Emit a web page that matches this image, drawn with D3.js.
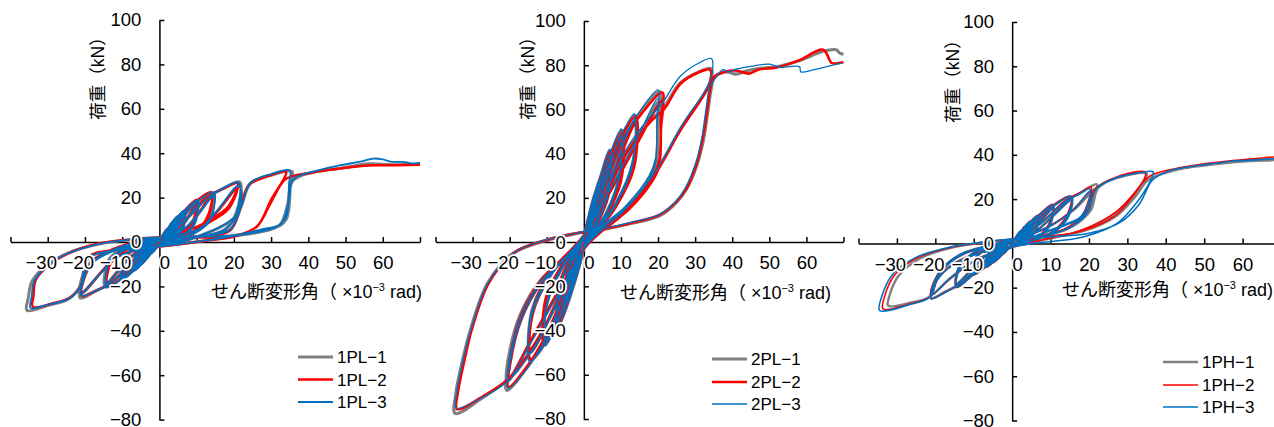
<!DOCTYPE html>
<html>
<head>
<meta charset="utf-8">
<script src="https://cdn.jsdelivr.net/npm/d3@7"></script>
<style>
  body { margin: 0; background: #fff; }
  text { font-family: "Liberation Sans", "Noto Sans CJK JP", sans-serif; fill: #000; }
</style>
</head>
<body>
<svg id="chart" width="1274" height="427"></svg>
<script>
// AXIS TICKS
xTicks = [-40, -30, -20, -10, 0, 10, 20, 30, 40, 50, 60, 70];
xTickLabels = [-30, -20, -10, 0, 10, 20, 30, 40, 50, 60];
yTicks = [-80, -60, -40, -20, 0, 20, 40, 60, 80, 100];

// SERIES NAMES
namesPL1 = ["1PL-1", "1PL-2", "1PL-3"];
namesPL2 = ["2PL-1", "2PL-2", "2PL-3"];
namesPH1 = ["1PH-1", "1PH-2", "1PH-3"];

// 1PL (shear angle x10^-3 rad, load kN)
pl1_1 = [[0,0],
[1,3.2],[2.2,6],[1.9,2.6],[0.7,0],[0,-0.8],[-1,-2.8],[-2.2,-5],[-1.9,-2],[-0.7,0],[0,0.8],
[1.6,3.6],[3.3,8.5],[2.8,3.4],[1,0],[0,-1],[-1.6,-3.2],[-3.3,-7.2],[-2.8,-2.6],[-1,0],[0,1],
[1.6,3.8],[3,7.6],[5,11.5],[4.3,4.5],[1.5,0],[0,-1.2],[-1.6,-3.5],[-3,-6.5],[-5.2,-10.2],[-4.4,-3.8],[-1.5,0],[0,1.2],
[2.6,4.2],[5,10.6],[4.4,4.2],[1.6,0],[0,-1.2],[-2.6,-4],[-5.2,-9.4],[-4.5,-3.4],[-1.6,0],[0,1.2],
[2.5,5.2],[4.5,10.3],[6.8,14],[5.9,5.5],[2.2,0.2],[0,-1.3],[-2.6,-4.8],[-4.7,-9.3],[-7,-12.8],[-6,-4.6],[-2.2,-0.2],[0,1.3],
[3.6,4.6],[6.8,12.8],[6,5.2],[2.3,0.2],[0,-1.3],[-3.6,-4.4],[-7,-11.7],[-6.1,-4.3],[-2.3,0],[0,1.3],
[3.4,6.3],[6.2,12.6],[10.2,18.5],[9,7.5],[3.5,0.4],[0,-1.5],[-3.5,-5.8],[-6.3,-11.5],[-10.4,-16.8],[-9.2,-6.2],[-3.5,-0.4],[0,1.5],
[5,5.1],[10.2,16.8],[9,7],[3.6,0.3],[0,-1.5],[-5,-5],[-10.4,-15.3],[-9.2,-5.8],[-3.6,-0.3],[0,1.5],
[5,8.3],[9.2,16.6],[14.3,22],[13.1,9.6],[5,0.8],[0,-1.6],[-5.2,-7.6],[-9.4,-15.1],[-14.5,-20.3],[-13.3,-7.8],[-5,-0.6],[0,1.6],
[7,6.2],[14.3,20.3],[13.1,9],[5.2,0.6],[0,-1.6],[-7,-5.8],[-14.5,-18.6],[-13.3,-7.2],[-5.2,-0.4],[0,1.6],
[7,10],[12.9,19.8],[17.5,24.5],[21.6,27],[20.6,13],[17.5,5.5],[8,1.3],[0,-1.8],[-7.2,-9.1],[-13,-18.3],[-17.5,-22.5],[-21.3,-25.2],[-20.6,-16],[-18.2,-9.2],[-11.5,-3.2],[-5,-0.6],[0,1.8],
[11,6.2],[21.6,25.2],[20.6,12],[8,1.1],[0,-1.8],[-11,-6.4],[-21.3,-23.4],[-20.6,-15],[-18.2,-8.6],[-8,-0.8],[0,1.8],
[12,2.8],[19,5.5],[22,16],[24.5,26.5],[30,30],[35.6,31.8],[35.2,26],[34,10],[30.5,6],[20,2.6],[12,0.6],[0,-2],[-12,-3.8],[-19,-7],[-21.5,-20.5],[-24.5,-25.8],[-30,-28.6],[-35.6,-30.8],[-35.2,-25],[-34.2,-17.5],[-30,-10.2],[-25,-5.3],[-16,-0.8],[-6,1.3],[0,2],
[10,2.2],[20,2.9],[28,5.6],[32.3,7.6],[34.3,16],[35.6,27],[38,29.8],[42,31.6],[50,33.6],[56,35.2],[63,34.8],[70,35]];

pl1_2 = [[0,0],
[1,3],[2.2,5.8],[1.9,2.4],[0.7,0],[0,-0.7],[-1,-2.6],[-2.2,-4.8],[-1.9,-1.9],[-0.7,0],[0,0.7],
[1.6,3.4],[3.3,8.2],[2.8,3.2],[1,0],[0,-0.9],[-1.6,-3],[-3.3,-7],[-2.8,-2.5],[-1,0],[0,0.9],
[1.6,3.7],[3,7.4],[5,11.2],[4.3,4.3],[1.5,0],[0,-1.1],[-1.6,-3.4],[-3,-6.3],[-5,-10],[-4.3,-3.6],[-1.5,0],[0,1.1],
[2.6,4],[5,10.4],[4.4,4],[1.6,0],[0,-1.1],[-2.6,-3.8],[-5,-9.2],[-4.4,-3.2],[-1.6,0],[0,1.1],
[2.5,5],[4.5,10],[6.8,14.2],[5.8,5.2],[2.2,0.2],[0,-1.2],[-2.5,-4.6],[-4.5,-9.1],[-6.8,-12.6],[-5.8,-4.4],[-2.2,-0.2],[0,1.2],
[3.6,4.4],[6.8,13],[5.9,5],[2.3,0.2],[0,-1.2],[-3.6,-4.2],[-6.8,-11.6],[-5.9,-4.1],[-2.3,0],[0,1.2],
[3.4,6.4],[6.1,12.8],[10,19],[8.4,7.2],[3.5,0.4],[0,-1.4],[-3.4,-5.7],[-6.1,-11.3],[-10,-16.6],[-8.6,-6],[-3.5,-0.4],[0,1.4],
[5,5],[10,17.2],[8.5,6.8],[3.6,0.3],[0,-1.4],[-5,-4.8],[-10,-15],[-8.7,-5.6],[-3.6,-0.3],[0,1.4],
[5,8.6],[9,17],[14,22.3],[12.2,9.2],[5,0.8],[0,-1.5],[-5,-7.5],[-9,-14.9],[-14,-20],[-12.4,-7.5],[-5,-0.6],[0,1.5],
[7,6],[14,20.5],[12.4,8.8],[5.2,0.6],[0,-1.5],[-7,-5.6],[-14,-18.4],[-12.5,-7],[-5.2,-0.4],[0,1.5],
[7,10],[12.6,20],[17.2,24],[21,26.5],[18.5,16],[12.5,8.8],[6,1.5],[0,-1.7],[-7,-8.8],[-12.6,-18],[-17.2,-22],[-20.8,-24.2],[-20,-15.5],[-17.8,-8.8],[-11.5,-3],[-5,-0.5],[0,1.7],
[12.5,9],[21,25],[18.6,15],[12.5,8],[6,1.2],[0,-1.7],[-11,-6.2],[-20.8,-22.8],[-20,-14.5],[-17.8,-8.3],[-8,-0.7],[0,1.7],
[12,2.6],[19,5.3],[21.8,16],[24,25.6],[29,29.6],[34,31.6],[30,19],[26.2,7],[20,2.5],[12,0.5],[0,-1.9],[-12,-3.6],[-19,-6.8],[-21.2,-20],[-24,-25],[-29,-27.8],[-34,-29.2],[-33.8,-24],[-33.2,-17],[-29,-9.6],[-24,-4.8],[-16,-0.6],[-6,1.3],[0,1.9],
[10,2.1],[20,2.6],[26.2,7],[30,18],[33.6,28],[36,29.8],[40,31],[45,32.4],[50,33.4],[56,34.5],[62,34.6],[70,34.8]];

pl1_3 = [[0,0],
[1,3.3],[2.2,6.2],[1.9,2.7],[0.7,0],[0,-0.8],[-1,-2.9],[-2.2,-5.2],[-1.9,-2.1],[-0.7,0],[0,0.8],
[1.6,3.7],[3.3,8.8],[2.8,3.5],[1,0],[0,-1],[-1.6,-3.3],[-3.3,-7.4],[-2.8,-2.7],[-1,0],[0,1],
[1.6,3.9],[3,7.9],[5,11.8],[4.3,4.6],[1.5,0],[0,-1.2],[-1.6,-3.6],[-3,-6.7],[-5,-10.4],[-4.3,-3.9],[-1.5,0],[0,1.2],
[2.6,4.3],[5,10.8],[4.4,4.3],[1.6,0],[0,-1.2],[-2.6,-4.1],[-5,-9.6],[-4.4,-3.5],[-1.6,0],[0,1.2],
[2.5,5.4],[4.5,10.6],[6.8,14.4],[5.9,5.6],[2.2,0.2],[0,-1.3],[-2.5,-4.8],[-4.5,-9.5],[-6.8,-13],[-5.9,-4.7],[-2.2,-0.2],[0,1.3],
[3.6,4.7],[6.8,13.1],[6,5.3],[2.3,0.2],[0,-1.3],[-3.6,-4.5],[-6.8,-12],[-6,-4.4],[-2.3,0],[0,1.3],
[3.4,6.5],[6.2,13],[10.3,18.8],[9.1,7.6],[3.5,0.4],[0,-1.5],[-3.4,-6],[-6.2,-11.8],[-10.2,-17],[-9,-6.3],[-3.5,-0.4],[0,1.5],
[5,5.2],[10.3,17],[9.1,7.1],[3.6,0.3],[0,-1.5],[-5,-5.1],[-10.2,-15.5],[-9,-5.9],[-3.6,-0.3],[0,1.5],
[5,8.5],[9.3,16.9],[14.6,22.4],[13.4,9.8],[5,0.8],[0,-1.6],[-5,-7.7],[-9.2,-15.3],[-14.2,-20.2],[-13,-7.9],[-5,-0.6],[0,1.6],
[7,6.3],[14.6,20.6],[13.4,9.2],[5.2,0.6],[0,-1.6],[-7,-5.9],[-14.2,-18.5],[-13,-7.3],[-5.2,-0.4],[0,1.6],
[7,10],[13.2,20.1],[17.6,24.6],[21.3,26.8],[20.8,13.4],[18,6],[8,1.3],[0,-1.8],[-7,-9],[-12.8,-18.2],[-17.4,-22.2],[-21,-24.2],[-20.4,-17],[-18,-9.4],[-11.5,-3.4],[-5,-0.6],[0,1.8],
[11,6.3],[21.3,25.4],[20.8,12.4],[8,1.1],[0,-1.8],[-11,-6.5],[-21,-23],[-20.4,-16],[-18,-8.8],[-8,-0.8],[0,1.8],
[12,2.8],[19,5.6],[22,16.4],[24.5,26.8],[30,30.6],[35,32.2],[34.8,26],[34,11],[31,6.6],[20,2.7],[12,0.6],[0,-2],[-12,-3.9],[-19,-7.1],[-21.4,-20.6],[-24.3,-25.5],[-30,-28.2],[-34.6,-29.8],[-34.3,-24.5],[-33.6,-17.4],[-29.5,-10],[-25,-5.4],[-16,-0.8],[-6,1.4],[0,2],
[10,2.3],[20,3],[28,5.8],[32.6,8],[34.6,17],[35.8,28],[38,30.2],[42,32],[48,34.4],[54,36.2],[57.5,37.6],[60,37.2],[62,36.2],[66,36],[68,35.4],[70,35.8]];

// 2PL
pl2_1 = [[0,0],
[0.8,8],[2.2,16],[1.9,8],[0.8,2],[0,-2],[-0.8,-8],[-2.2,-15.5],[-1.9,-7.5],[-0.8,-1.8],[0,2],
[1.1,10],[2.3,18],[3.3,23],[3,13],[1.7,5],[0,-2.2],[-1.1,-10],[-2.3,-17],[-3.3,-22],[-3,-12],[-1.7,-4.5],[0,2.2],
[1.5,12],[3.4,24],[5,31],[4.6,17],[2.6,7],[0.8,1],[0,-2.5],[-1.5,-12],[-3.4,-23],[-5,-30],[-4.6,-16],[-2.6,-6.5],[-0.8,-0.5],[0,2.5],
[2,13],[5,29],[4.6,16],[2.6,6.5],[0,-2.5],[-2,-12.5],[-5,-28],[-4.6,-15],[-2.6,-6],[0,2.5],
[2,14],[4.6,30],[7,41.5],[6.5,22],[3.6,9],[1,1.5],[0,-2.8],[-2,-14],[-4.6,-29],[-7,-38],[-6.5,-20],[-3.6,-8],[-1,-1],[0,2.8],
[2.5,15],[7,39],[6.5,21],[3.6,8.5],[0,-2.8],[-2.5,-15],[-7,-36],[-6.5,-19],[-3.6,-7.5],[0,2.8],
[2.5,15],[6,34],[10.2,50.7],[9.7,30],[6,13],[2,3],[0,-3],[-2.5,-15],[-6.5,-33],[-10.5,-46.5],[-10,-28],[-6,-12],[-2,-2.5],[0,3],
[3.5,16],[10.2,48],[9.7,28],[6,12],[0,-3],[-3.5,-16],[-10.5,-44],[-10,-26],[-6,-11],[0,3],
[3,16],[8,40],[13.7,57.5],[13.2,36],[8.5,17],[3,4.5],[0,-3],[-3,-16],[-8.5,-40],[-14.5,-53.5],[-14,-33],[-9,-15],[-3.5,-4],[0,3],
[4.5,17],[13.7,54],[13.2,34],[8.5,16],[0,-3],[-4.5,-17],[-14.5,-50],[-14,-31],[-9,-14],[0,3],
[4,18],[10,44],[15,58],[20.5,68],[20,56],[19.5,37],[17.8,29.5],[11.5,16],[5.2,6.9],[0,-3],[-4,-18],[-10,-42],[-15,-56],[-20.8,-67],[-20.3,-55],[-17.2,-35.3],[-11.8,-18.7],[-5.6,-8.1],[0,3],
[6,20],[14,45],[20.5,64],[20,52],[19.5,35],[17.8,28],[11.5,15],[5.2,6.5],[0,-3],[-6,-20],[-14,-44],[-20.8,-63],[-20.3,-52],[-17.2,-33],[-11.8,-17.5],[-5.6,-7.5],[0,3],
[5,19],[12,42],[18,55],[21.4,60.5],[26,72],[31,77],[34.3,78.5],[34,72],[26,51],[18.6,29.6],[10.5,13],[4,4],[0,-3],[-5,-20],[-12,-43],[-18,-58],[-21.7,-64],[-27,-70],[-34.7,-77.5],[-34.5,-68.5],[-32.5,-52],[-30.6,-39.8],[-26,-18.7],[-19,-5],[-10,0.9],[-2,3.9],
[0,4.5],[6,6],[13,8.5],[20.5,12],[25,18],[27.7,24],[30.5,35],[32.2,46],[33.5,60],[34.3,69],[35.2,74.5],[38.5,77],[41,76],[44,77.5],[47,78.5],[52,79.3],[58,82],[64.5,86.3],[68,87],[69,85.5],[70,85]];

pl2_2 = [[0,0],
[0.8,7.6],[2.2,15.6],[1.9,7.6],[0.8,1.8],[0,-1.9],[-0.8,-7.6],[-2.2,-15],[-1.9,-7.2],[-0.8,-1.6],[0,1.9],
[1.1,9.6],[2.3,17.4],[3.3,22.6],[3,12.6],[1.7,4.8],[0,-2.1],[-1.1,-9.6],[-2.3,-16.5],[-3.3,-21.5],[-3,-11.6],[-1.7,-4.3],[0,2.1],
[1.5,11.6],[3.4,23.4],[5,30.5],[4.6,16.6],[2.6,6.8],[0.8,0.9],[0,-2.4],[-1.5,-11.6],[-3.4,-22.4],[-5,-29.5],[-4.6,-15.6],[-2.6,-6.2],[-0.8,-0.4],[0,2.4],
[2,12.6],[5,28.6],[4.6,15.6],[2.6,6.2],[0,-2.4],[-2,-12.2],[-5,-27.5],[-4.6,-14.6],[-2.6,-5.8],[0,2.4],
[2,13.6],[4.6,29.5],[7,41],[6.5,21.6],[3.6,8.8],[1,1.4],[0,-2.7],[-2,-13.6],[-4.6,-28.5],[-7,-37.5],[-6.5,-19.6],[-3.6,-7.8],[-1,-0.9],[0,2.7],
[2.5,14.6],[7,38.6],[6.5,20.6],[3.6,8.3],[0,-2.7],[-2.5,-14.6],[-7,-35.6],[-6.5,-18.6],[-3.6,-7.3],[0,2.7],
[2.5,14.6],[6,33.5],[10.5,50],[10,29.5],[6,12.6],[2,2.8],[0,-2.9],[-2.5,-14.6],[-6.5,-32.5],[-10.8,-46],[-10.3,-27.5],[-6,-11.6],[-2,-2.3],[0,2.9],
[3.5,15.6],[10.5,47.5],[10,27.5],[6,11.6],[0,-2.9],[-3.5,-15.6],[-10.8,-43.5],[-10.3,-25.5],[-6,-10.6],[0,2.9],
[3,15.6],[8,39.5],[14,57],[13.5,35.5],[8.5,16.6],[3,4.3],[0,-2.9],[-3,-15.6],[-8.5,-39.5],[-14.3,-53],[-13.8,-32.5],[-9,-14.6],[-3.5,-3.8],[0,2.9],
[4.5,16.6],[14,53.5],[13.5,33.5],[8.5,15.6],[0,-2.9],[-4.5,-16.6],[-14.3,-49.5],[-13.8,-30.5],[-9,-13.6],[0,2.9],
[4,17.6],[10,43.5],[15.5,58],[21.2,67.6],[20.8,55.5],[20.3,36.5],[18.4,29],[12,15.6],[5.5,6.6],[0,-2.9],[-4,-17.6],[-10,-41.5],[-15,-55.5],[-20.3,-65.5],[-19.8,-54.5],[-16.8,-34.8],[-11.4,-18.2],[-5.4,-7.8],[0,2.9],
[6,19.6],[14.5,45],[21.2,64],[20.8,51.5],[20.3,34.5],[18.4,27.5],[12,14.6],[5.5,6.2],[0,-2.9],[-6,-19.6],[-14,-43.5],[-20.3,-62.5],[-19.8,-51.5],[-16.8,-32.5],[-11.4,-17],[-5.4,-7.2],[0,2.9],
[5,18.6],[12,41.5],[18,54.5],[21.6,60],[26,71.5],[31,76.8],[34,78],[33.8,71.5],[26,50.5],[18.6,29.2],[10.5,12.6],[4,3.8],[0,-2.9],[-5,-19.6],[-12,-42.5],[-18,-57.5],[-21.5,-63.5],[-27,-69.5],[-34.2,-75.5],[-34,-68.5],[-32,-52],[-30.2,-39.5],[-25.6,-18.4],[-18.8,-4.8],[-10,1],[-2,4],
[0,4.6],[6,6.2],[13,8.8],[20.5,12.4],[25,18.4],[27.7,24.4],[30.4,35.5],[32,46.5],[33.3,60.5],[34.1,69.5],[35,74.5],[38,77],[41,77.6],[44.5,76.2],[47,78],[52,79],[58,82.2],[64.5,87],[66.8,81],[68,80.8],[70,81.3]];

pl2_3 = [[0,0],
[0.8,8.4],[2.2,16.4],[1.9,8.2],[0.8,2.1],[0,-2],[-0.8,-8.2],[-2.2,-15.8],[-1.9,-7.7],[-0.8,-1.9],[0,2],
[1.1,10.4],[2.3,18.5],[3.3,23.6],[3,13.4],[1.7,5.2],[0,-2.3],[-1.1,-10.3],[-2.3,-17.4],[-3.3,-22.4],[-3,-12.3],[-1.7,-4.6],[0,2.3],
[1.5,12.4],[3.4,24.6],[5,31.5],[4.6,17.3],[2.6,7.2],[0.8,1.1],[0,-2.6],[-1.5,-12.3],[-3.4,-23.4],[-5,-30.4],[-4.6,-16.3],[-2.6,-6.7],[-0.8,-0.6],[0,2.6],
[2,13.4],[5,29.5],[4.6,16.4],[2.6,6.7],[0,-2.6],[-2,-12.8],[-5,-28.4],[-4.6,-15.3],[-2.6,-6.1],[0,2.6],
[2,14.4],[4.6,30.6],[7,42],[6.5,22.4],[3.6,9.2],[1,1.6],[0,-2.9],[-2,-14.4],[-4.6,-29.4],[-7,-38.5],[-6.5,-20.4],[-3.6,-8.2],[-1,-1.1],[0,2.9],
[2.5,15.4],[7,39.5],[6.5,21.4],[3.6,8.7],[0,-2.9],[-2.5,-15.4],[-7,-36.5],[-6.5,-19.4],[-3.6,-7.7],[0,2.9],
[2.5,15.4],[6,34.5],[10,51.2],[9.5,30.5],[6,13.4],[2,3.2],[0,-3.1],[-2.5,-15.4],[-6.5,-33.4],[-10.4,-47],[-9.9,-28.4],[-6,-12.3],[-2,-2.6],[0,3.1],
[3.5,16.4],[10,48.5],[9.5,28.5],[6,12.4],[0,-3.1],[-3.5,-16.4],[-10.4,-44.5],[-9.9,-26.4],[-6,-11.3],[0,3.1],
[3,16.4],[8,40.5],[13.6,58],[13.1,36.5],[8.5,17.4],[3,4.7],[0,-3.1],[-3,-16.4],[-8.5,-40.5],[-14.6,-54],[-14.1,-33.5],[-9,-15.4],[-3.5,-4.2],[0,3.1],
[4.5,17.4],[13.6,54.5],[13.1,34.5],[8.5,16.4],[0,-3.1],[-4.5,-17.4],[-14.6,-50.5],[-14.1,-31.5],[-9,-14.4],[0,3.1],
[4,18.4],[10,44.5],[15,59],[20,68.8],[19.7,57],[19.3,37.5],[17.6,30],[11.3,16.4],[5,7.2],[0,-3.1],[-4,-18.4],[-10,-42.5],[-15,-56.5],[-20.5,-66],[-20,-55.5],[-17,-35.8],[-11.6,-19],[-5.5,-8.3],[0,3.1],
[6,20.4],[14,45.5],[20,65],[19.7,53],[19.3,35.5],[17.6,28.5],[11.3,15.4],[5,6.7],[0,-3.1],[-6,-20.4],[-14,-44.5],[-20.5,-63],[-20,-52.5],[-17,-33.5],[-11.6,-17.8],[-5.5,-7.7],[0,3.1],
[5,19.6],[12,43.5],[18,57],[21,62.5],[26,75],[31,81],[34.4,83],[34,73],[26.5,53],[19,31],[10.5,13.6],[4,4.2],[0,-3.1],[-5,-20.4],[-12,-43.5],[-18,-58.5],[-21.5,-64.2],[-27,-70],[-34.4,-75],[-34.3,-68.2],[-32.3,-51.5],[-30.4,-39.4],[-25.8,-18.4],[-18.9,-4.9],[-10,1.1],[-2,4.1],
[0,4.8],[6,6.4],[13,9],[20.5,12.6],[25,18.8],[27.5,25],[30.2,36],[31.8,47],[33,61],[33.9,70],[35,73],[37.5,78],[39,77],[41,78.2],[45,79.5],[50,80.5],[53,79],[57,79.6],[58.2,79.2],[58.5,77],[62,78],[66,79.6],[69.5,81]];

// 1PH
ph1_1 = [[0,0],
[0.9,2.5],[2.2,5.5],[1.9,2.4],[0.8,0.2],[0,-0.6],[-0.9,-2],[-2.2,-4.5],[-1.9,-1.8],[-0.8,-0.1],[0,0.6],
[1.4,3],[3.3,7.5],[2.9,3.2],[1.2,0.3],[0,-0.8],[-1.4,-2.4],[-3.3,-6.2],[-2.9,-2.4],[-1.2,-0.2],[0,0.8],
[1.6,3.3],[3,6.8],[5,10],[4.4,4.4],[1.8,0.4],[0,-1],[-1.6,-2.8],[-3,-5.7],[-5,-8.5],[-4.4,-3.4],[-1.8,-0.3],[0,1],
[2.4,3.6],[5,9.2],[4.4,4],[1.9,0.3],[0,-1],[-2.4,-3],[-5,-7.8],[-4.4,-3.1],[-1.9,-0.2],[0,1],
[2.5,4.6],[4.5,9],[6.8,12.5],[6,5.5],[2.6,0.5],[0,-1.1],[-2.5,-3.9],[-4.5,-7.7],[-6.8,-10.5],[-6,-4.3],[-2.6,-0.4],[0,1.1],
[3.2,4.2],[6.8,11.6],[6,5.2],[2.7,0.4],[0,-1.1],[-3.2,-3.5],[-6.8,-9.8],[-6,-4],[-2.7,-0.3],[0,1.1],
[3.4,5.6],[6.2,11.2],[10.7,17.2],[9.6,8],[5.5,1.6],[2,0],[0,-1.3],[-3.4,-4.7],[-6.2,-9.5],[-10.2,-14],[-9.2,-6.2],[-5.2,-1.2],[-2,0],[0,1.3],
[4.8,5.2],[10.7,15.8],[9.6,7.5],[5.5,1.4],[0,-1.3],[-4.8,-4.2],[-10.2,-13],[-9.2,-5.8],[-5.2,-1],[0,1.3],
[5.4,7.7],[9.7,15.5],[15.5,21],[14.6,13],[11,5.6],[6,1.8],[0,-1.5],[-5.1,-6.3],[-9.3,-12.6],[-14.5,-19.6],[-13.8,-11.5],[-10,-4.6],[-5.5,-1.2],[0,1.5],
[6.5,6],[15.5,19.5],[14.6,12],[11,5.2],[6,1.6],[0,-1.5],[-6.5,-5.2],[-14.5,-18],[-13.8,-10.6],[-10,-4.2],[-5.5,-1],[0,1.5],
[7,8.5],[14,19],[18.5,23.5],[22,26.7],[21.2,21],[19,12.5],[14.2,6.6],[6.3,2.8],[0,-1.6],[-7,-8],[-13.2,-17.6],[-17.5,-21.8],[-21,-24.6],[-20.4,-19],[-18,-11.5],[-13,-5],[-6,-1.2],[0,1.6],
[9,7],[16,15],[22,25],[21.2,20],[19,12],[14.2,6.3],[6.3,2.6],[0,-1.6],[-9,-7],[-16,-15.5],[-21,-23.2],[-20.4,-18],[-18,-11],[-13,-4.6],[-6,-1],[0,1.6],
[9,3.6],[16,8],[20.5,15],[22.4,25],[27.2,29.5],[35,31.6],[34.6,29],[32.4,23.5],[27.2,14],[18.5,6],[8,1.5],[0,-1.6],[-9,-4.5],[-16,-10],[-19.5,-16],[-21.4,-23.8],[-27,-27],[-32.3,-28.1],[-32,-24],[-29.5,-14.5],[-24,-6.8],[-16,-2],[-7.5,0.4],[0,1.8],
[9,2.9],[18.5,5.5],[27.2,12.5],[32,21],[35,28],[37.5,30.5],[40.2,32],[45,34],[50,35.2],[55,36.2],[60,37],[68,37.6],[70,37.8]];

ph1_2 = [[0,0],
[0.9,2.6],[2.2,5.7],[1.9,2.5],[0.8,0.2],[0,-0.6],[-0.9,-2.1],[-2.2,-4.7],[-1.9,-1.9],[-0.8,-0.1],[0,0.6],
[1.4,3.1],[3.3,7.7],[2.9,3.3],[1.2,0.3],[0,-0.8],[-1.4,-2.5],[-3.3,-6.4],[-2.9,-2.5],[-1.2,-0.2],[0,0.8],
[1.6,3.4],[3,7],[5,10.3],[4.4,4.5],[1.8,0.4],[0,-1],[-1.6,-2.9],[-3,-5.9],[-5,-8.8],[-4.4,-3.5],[-1.8,-0.3],[0,1],
[2.4,3.7],[5,9.4],[4.4,4.1],[1.9,0.3],[0,-1],[-2.4,-3.1],[-5,-8],[-4.4,-3.2],[-1.9,-0.2],[0,1],
[2.5,4.7],[4.5,9.3],[6.8,12.8],[6,5.6],[2.6,0.5],[0,-1.1],[-2.5,-4],[-4.5,-7.9],[-6.8,-10.8],[-6,-4.4],[-2.6,-0.4],[0,1.1],
[3.2,4.3],[6.8,11.8],[6,5.3],[2.7,0.4],[0,-1.1],[-3.2,-3.6],[-6.8,-10],[-6,-4.1],[-2.7,-0.3],[0,1.1],
[3.4,5.8],[6.2,11.5],[10.5,17.6],[9.4,8.2],[5.4,1.6],[2,0],[0,-1.3],[-3.4,-4.9],[-6.2,-9.7],[-10.3,-14.4],[-9.3,-6.4],[-5.2,-1.2],[-2,0],[0,1.3],
[4.8,5.3],[10.5,16.2],[9.4,7.7],[5.4,1.4],[0,-1.3],[-4.8,-4.3],[-10.3,-13.4],[-9.3,-6],[-5.2,-1],[0,1.3],
[5.3,7.9],[9.5,15.8],[15.3,21.3],[14.4,13.2],[10.8,5.7],[6,1.8],[0,-1.5],[-5.2,-6.5],[-9.4,-13],[-14.6,-20],[-13.9,-11.8],[-10,-4.7],[-5.5,-1.2],[0,1.5],
[6.5,6.1],[15.3,19.8],[14.4,12.2],[10.8,5.3],[6,1.6],[0,-1.5],[-6.5,-5.3],[-14.6,-18.4],[-13.9,-10.8],[-10,-4.3],[-5.5,-1],[0,1.5],
[7,8.6],[13.8,19.3],[17.5,22.8],[20.6,25.6],[20,20],[18,12],[13.5,6.4],[6.3,2.8],[0,-1.6],[-7,-8.1],[-13.2,-18],[-17.8,-22.4],[-21.2,-25],[-20.6,-19.4],[-18.2,-11.8],[-13,-5.1],[-6,-1.2],[0,1.6],
[9,7.2],[16,15.5],[20.6,24],[20,19],[18,11.5],[13.5,6],[6.3,2.6],[0,-1.6],[-9,-7.2],[-16,-15.8],[-21.2,-23.6],[-20.6,-18.4],[-18.2,-11.2],[-13,-4.7],[-6,-1],[0,1.6],
[9,3.7],[16,8.3],[19.5,14.5],[21.5,24.5],[27.2,30],[34.6,32.3],[34.6,30],[32.4,24],[27.2,14.5],[18.5,6.3],[8,1.6],[0,-1.6],[-9,-4.6],[-16,-10.3],[-19.5,-16.5],[-21.3,-24],[-27,-27.5],[-33.6,-29.6],[-33.3,-24.5],[-30.5,-14],[-24.5,-6.4],[-16,-1.8],[-7.5,0.5],[0,1.9],
[9,3],[18.5,5.8],[27,12.8],[31.5,21.5],[34.2,28],[36.5,31],[40,32.8],[45,34.6],[50,36],[55,37],[60,37.8],[65,38.6],[68,39],[70,38.8]];

ph1_3 = [[0,0],
[0.9,2.6],[2.2,5.6],[1.9,2.4],[0.8,0.2],[0,-0.6],[-0.9,-2],[-2.2,-4.6],[-1.9,-1.8],[-0.8,-0.1],[0,0.6],
[1.4,3],[3.3,7.6],[2.9,3.2],[1.2,0.3],[0,-0.8],[-1.4,-2.4],[-3.3,-6.3],[-2.9,-2.4],[-1.2,-0.2],[0,0.8],
[1.6,3.3],[3,6.9],[5,10.1],[4.4,4.4],[1.8,0.4],[0,-1],[-1.6,-2.8],[-3,-5.8],[-5,-8.6],[-4.4,-3.4],[-1.8,-0.3],[0,1],
[2.4,3.6],[5,9.3],[4.4,4],[1.9,0.3],[0,-1],[-2.4,-3],[-5,-7.9],[-4.4,-3.1],[-1.9,-0.2],[0,1],
[2.5,4.6],[4.5,9.1],[6.8,12.6],[6,5.5],[2.6,0.5],[0,-1.1],[-2.5,-3.9],[-4.5,-7.8],[-6.8,-10.6],[-6,-4.3],[-2.6,-0.4],[0,1.1],
[3.2,4.2],[6.8,11.7],[6,5.2],[2.7,0.4],[0,-1.1],[-3.2,-3.5],[-6.8,-9.9],[-6,-4],[-2.7,-0.3],[0,1.1],
[3.4,5.7],[6.2,11.3],[10.7,17.3],[9.6,8],[5.5,1.6],[2,0],[0,-1.3],[-3.4,-4.8],[-6.2,-9.6],[-10.2,-14.2],[-9.2,-6.2],[-5.2,-1.2],[-2,0],[0,1.3],
[4.8,5.2],[10.7,15.9],[9.6,7.5],[5.5,1.4],[0,-1.3],[-4.8,-4.2],[-10.2,-13.2],[-9.2,-5.8],[-5.2,-1],[0,1.3],
[5.4,7.8],[9.7,15.6],[15.5,21.1],[14.6,13],[11,5.6],[6,1.8],[0,-1.5],[-5.1,-6.4],[-9.3,-12.8],[-14.5,-19.8],[-13.8,-11.6],[-10,-4.6],[-5.5,-1.2],[0,1.5],
[6.5,6],[15.5,19.6],[14.6,12],[11,5.2],[6,1.6],[0,-1.5],[-6.5,-5.2],[-14.5,-18.2],[-13.8,-10.6],[-10,-4.2],[-5.5,-1],[0,1.5],
[7,8.4],[13.8,18.8],[17.2,22],[20.2,24.7],[19.8,18],[17.5,11.5],[14.2,8.9],[6.3,3.6],[0,-1.6],[-7,-8],[-13.2,-17.8],[-17.6,-22.3],[-21,-25],[-20.4,-19.2],[-18,-11.6],[-13,-5],[-6,-1.2],[0,1.6],
[9,7.1],[16,15.2],[20.2,23.4],[19.8,17.2],[17.5,11],[14.2,8.4],[6.3,3.4],[0,-1.6],[-9,-7.1],[-16,-15.6],[-21,-23.4],[-20.4,-18.2],[-18,-11],[-13,-4.6],[-6,-1],[0,1.6],
[9,3.6],[16,8.2],[19.8,14.5],[21.8,24.5],[27.2,29.7],[33,31.8],[36.7,32.3],[36.3,29.3],[33.5,21],[31.5,16.4],[27.2,8.9],[18.5,2.9],[5.5,0],[0,-1.5],[-9,-4.7],[-16,-10.5],[-19.6,-16.8],[-21.4,-24.3],[-27,-27.8],[-34.5,-30.3],[-34,-24.3],[-31,-13.7],[-24.9,-6.2],[-16.2,-1.7],[-7.5,0.6],[0,2],
[10,3],[20,4.6],[28,9.4],[33,17.5],[36.5,28.5],[40.2,32.3],[44,34],[48.9,35.3],[53,36.2],[57.6,37.2],[62,37.6],[68,38.2],[70,38.4]];

// COLOURS
colors = ["#808080", "#ff0000", "#0070c0"];

// PANEL LAYOUT
panels = [
  {series: [pl1_1, pl1_2, pl1_3], names: namesPL1, widths: [3, 2.5, 1.8],
   xr: [10.5, 420], yr: [419.6, 20], legX: 298, legY: [357, 379.5, 402],
   xTitleEnd: 422, xTitleY: 298, yTitleX: 98, yTitleY: 74},
  {series: [pl2_1, pl2_2, pl2_3], names: namesPL2, widths: [3.2, 2.6, 1.3],
   xr: [435.5, 843.5], yr: [419, 21], legX: 712, legY: [359, 382, 404],
   xTitleEnd: 831, xTitleY: 299, yTitleX: 528, yTitleY: 74},
  {series: [ph1_1, ph1_2, ph1_3], names: namesPH1, widths: [2.4, 1.6, 1.6],
   xr: [858.5, 1281], yr: [420.5, 22], legX: 1163, legY: [362, 385, 407],
   xTitleEnd: 1273, xTitleY: 296, yTitleX: 953, yTitleY: 77}
];

svg = d3.select("#chart");
svg.append("rect").attr("width", 1274).attr("height", 427).attr("fill", "#fff");

function drawPanel(p) {
  x = d3.scaleLinear().domain([-40, 70]).range(p.xr);
  y = d3.scaleLinear().domain([-80, 100]).range(p.yr);
  g = svg.append("g");

  // AXIS LINES AND TICKS
  g.append("g")
    .attr("transform", "translate(0," + y(0) + ")")
    .call(d3.axisBottom(x).tickValues(xTicks).tickSizeInner(-5).tickSizeOuter(0).tickFormat(""));
  g.append("g")
    .attr("transform", "translate(" + x(0) + ",0)")
    .call(d3.axisLeft(y).tickValues(yTicks).tickSizeInner(-5).tickSizeOuter(0).tickFormat(""));
  g.selectAll(".domain, .tick line").attr("stroke", "#000").attr("stroke-width", 1.5);

  // CURVES
  line = d3.line()
    .x(function(d) { return x(d[0]); })
    .y(function(d) { return y(d[1]); })
    .curve(d3.curveCatmullRom.alpha(0.5));
  p.series.forEach(function(s, i) {
    g.append("path")
      .attr("d", line(s))
      .attr("fill", "none")
      .attr("stroke", colors[i])
      .attr("stroke-width", p.widths[i])
      .attr("stroke-linejoin", "round");
  });

  // TICK LABELS (on top, white halo)
  xl = g.append("g")
    .attr("transform", "translate(0," + y(0) + ")")
    .call(d3.axisBottom(x).tickValues(xTickLabels).tickSize(0).tickPadding(14));
  yl = g.append("g")
    .attr("transform", "translate(" + x(0) + ",0)")
    .call(d3.axisLeft(y).tickValues(yTicks).tickSize(0).tickPadding(18));
  [xl, yl].forEach(function(a) {
    a.select(".domain").remove();
    a.attr("font-family", null).attr("font-size", null);
    a.selectAll("text")
      .style("font-size", "18.5px")
      .attr("stroke", "#fff").attr("stroke-width", 3.5)
      .attr("stroke-linejoin", "round").attr("paint-order", "stroke");
  });
  xl.selectAll("text").attr("dx", function(d) { return d < 0 ? -7 : (d === 0 ? 5 : 0); });

  // AXIS TITLES
  xt = g.append("text")
    .attr("x", p.xTitleEnd).attr("y", p.xTitleY)
    .attr("text-anchor", "end")
    .style("font-size", "18px");
  xt.append("tspan").text("せん断変形角（ ×10");
  xt.append("tspan").attr("dy", -7).style("font-size", "11px").text("−3");
  xt.append("tspan").attr("dy", 7).text(" rad)");

  g.append("text")
    .attr("transform", "translate(" + p.yTitleX + "," + p.yTitleY + ") rotate(-90)")
    .attr("text-anchor", "middle")
    .attr("dy", "0.35em")
    .style("font-size", "17.5px")
    .text("荷重（kN）");

  // LEGEND
  p.names.forEach(function(n, i) {
    g.append("line")
      .attr("x1", p.legX).attr("x2", p.legX + 35)
      .attr("y1", p.legY[i]).attr("y2", p.legY[i])
      .attr("stroke", colors[i]).attr("stroke-width", p.widths[i]);
    g.append("text")
      .attr("x", p.legX + 39).attr("y", p.legY[i])
      .attr("dy", "0.36em")
      .style("font-size", "17px")
      .text(n.replace("-", "−"));
  });
}

panels.forEach(drawPanel);
</script>
</body>
</html>
